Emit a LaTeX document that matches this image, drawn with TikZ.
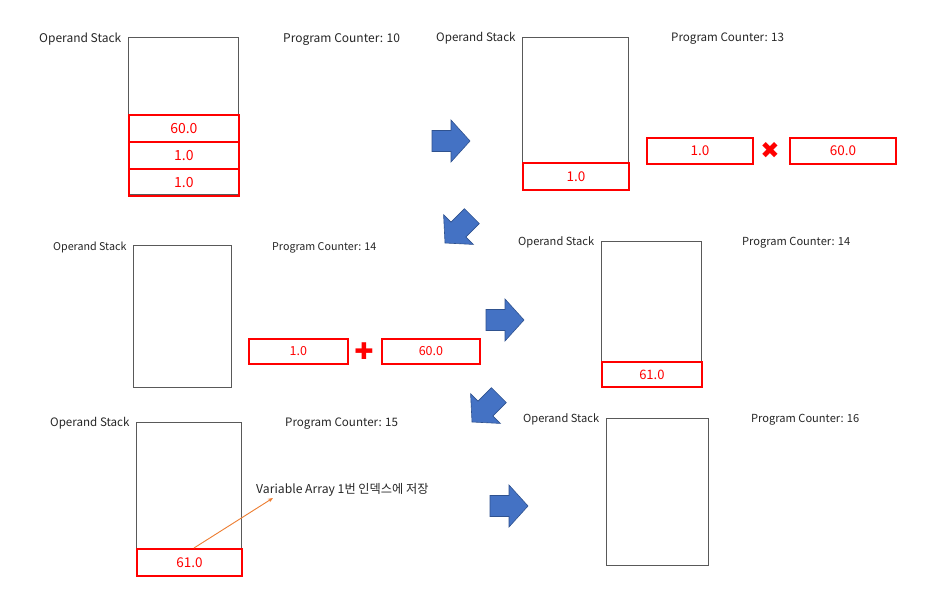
\documentclass[tikz,border=0pt]{standalone}
\usepackage{fontspec}
\usetikzlibrary{arrows.meta}
\setmainfont{Noto Sans CJK KR}
\newfontfamily\symfont{DejaVu Sans}
\definecolor{stackgray}{HTML}{595959}
\definecolor{txt}{HTML}{262626}
\definecolor{arrfill}{HTML}{4472C4}
\definecolor{arrdraw}{HTML}{2F528F}
\definecolor{orng}{HTML}{ED7D31}
\definecolor{cellred}{HTML}{FF0000}
\tikzset{
  stackbox/.style={draw=stackgray, line width=0.9pt, inner sep=0, anchor=north west, fill=white},
  cell/.style={draw=cellred, line width=1.8pt, text=cellred, inner sep=0, anchor=north west},
  lbl/.style={text=txt, inner sep=0, anchor=west},
  fs/.style={font=\fontsize{#1pt}{#1pt}\selectfont},
  opsym/.style={text=cellred, inner sep=0, font=\symfont\fontsize{23pt}{24pt}\selectfont},
  blockarrow/.style={fill=arrfill, draw=arrdraw, line width=0.6pt, line join=miter}
}
\newcommand\barrow[3]{%
  \begin{scope}[shift={(#1,#2)}, rotate=#3]
    \path[blockarrow] (0,0) -- (-19,21) -- (-19,10.5) -- (-38,10.5) -- (-38,-10.5) -- (-19,-10.5) -- (-19,-21) -- cycle;
  \end{scope}}
\begin{document}
\begin{tikzpicture}[x=1pt,y=-1pt]
\useasboundingbox[fill=white] (0,0) rectangle (940,591);

% Panel 1
\node[lbl, fs=12] (l1) at (39,39.5) {Operand Stack};
\node[lbl, fs=12] (p1) at (283,39.5) {Program Counter: 10};
\node[stackbox, minimum width=110pt, minimum height=157pt] (s1) at (128,37) {};
\node[cell, fs=14, minimum width=110pt, minimum height=27pt] (c1a) at (128,114) {60.0};
\node[cell, fs=14, minimum width=110pt, minimum height=27pt] (c1b) at (128,141) {1.0};
\node[cell, fs=14, minimum width=110pt, minimum height=27pt] (c1c) at (128,168) {1.0};

% Panel 2
\node[lbl, fs=11.6] (l2) at (436,38.5) {Operand Stack};
\node[lbl, fs=11.6] (p2) at (671,38.5) {Program Counter: 13};
\node[stackbox, minimum width=106pt, minimum height=152pt] (s2) at (522,37) {};
\node[cell, fs=13.5, minimum width=106pt, minimum height=27pt] (c2) at (522,162) {1.0};
\node[cell, fs=13.5, minimum width=106pt, minimum height=26pt] (m2a) at (646,137) {1.0};
\node[opsym] (x2) at (770,150) {✖};
\node[cell, fs=13.5, minimum width=106pt, minimum height=26pt] (m2b) at (789,137) {60.0};

% Panel 3
\node[lbl, fs=10.7] (l3) at (53,247.5) {Operand Stack};
\node[lbl, fs=10.7] (p3) at (272,247.5) {Program Counter: 14};
\node[stackbox, minimum width=98pt, minimum height=142pt] (s3) at (133,245) {};
\node[cell, fs=12.5, minimum width=99pt, minimum height=25pt] (m3a) at (248,338) {1.0};
\node[opsym] (x3) at (364,351) {✚};
\node[cell, fs=12.5, minimum width=98pt, minimum height=25pt] (m3b) at (381,338) {60.0};

% Panel 4
\node[lbl, fs=11.1] (l4) at (518,242.5) {Operand Stack};
\node[lbl, fs=11.1] (p4) at (742,242.5) {Program Counter: 14};
\node[stackbox, minimum width=100pt, minimum height=145pt] (s4) at (601,241) {};
\node[cell, fs=13, minimum width=100pt, minimum height=25pt] (c4) at (601,361) {61.0};

% Panel 5
\node[lbl, fs=11.6] (l5) at (50,423.5) {Operand Stack};
\node[lbl, fs=11.6] (p5) at (285,423.5) {Program Counter: 15};
\node[stackbox, minimum width=105pt, minimum height=153pt] (s5) at (136,422) {};
\node[cell, fs=13.5, minimum width=105pt, minimum height=27pt] (c5) at (136,548) {61.0};
\node[lbl, fs=12.2] (v5) at (256,490) {Variable Array 1번 인덱스에 저장};
\coordinate (o1) at (194,548);
\coordinate (o2) at (273,498);
\draw[orng, line width=0.9pt, -{Stealth[length=5pt,width=4pt]}] (o1) -- (o2);

% Panel 6
\node[lbl, fs=11.1] (l6) at (523,419.5) {Operand Stack};
\node[lbl, fs=11.1] (p6) at (751,419.5) {Program Counter: 16};
\node[stackbox, minimum width=102pt, minimum height=147pt] (s6) at (606,418) {};

% Block arrows
\barrow{470}{141}{0}
\barrow{445}{243}{225}
\barrow{472}{422}{225}
\barrow{524}{320}{0}
\barrow{528}{506}{0}
\end{tikzpicture}
\end{document}
